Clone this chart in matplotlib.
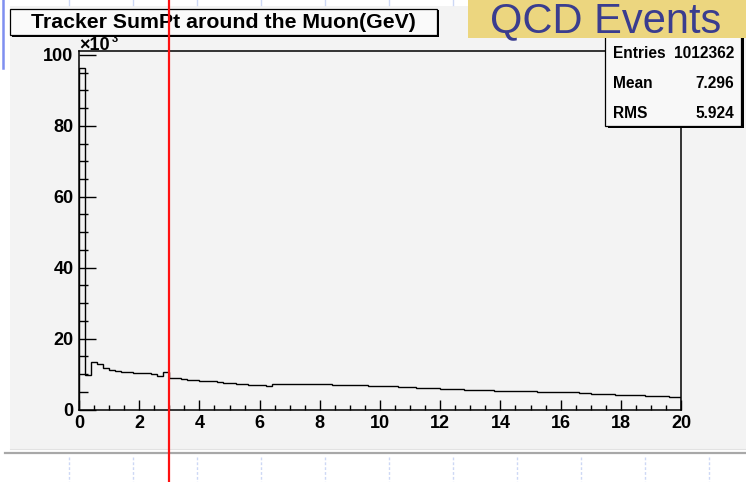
import numpy as np
import matplotlib
matplotlib.use("Agg")
import matplotlib.pyplot as plt
from matplotlib.patches import Rectangle
from matplotlib.lines import Line2D
from matplotlib.transforms import blended_transform_factory

plt.rcParams['font.family'] = ['Liberation Sans', 'DejaVu Sans']

# histogram: tracker sum pt around the muon, counts in units of 10^3
bin_edges = np.linspace(0.0, 20.0, 101)
counts_k = [
    96.3, 9.6, 13.3, 12.7, 11.7, 11.1, 10.9, 10.7, 10.6, 10.4,
    10.2, 10.2, 10.1, 9.4, 10.6, 9.0, 9.0, 8.6, 8.4, 8.3,
    8.1, 8.0, 7.9, 7.8, 7.6, 7.4, 7.3, 7.2, 7.0, 7.0,
    6.9, 6.7, 7.2, 7.3, 7.3, 7.3, 7.3, 7.3, 7.3, 7.2,
    7.2, 7.1, 7.0, 7.0, 6.95, 6.9, 6.9, 6.8, 6.7, 6.7,
    6.7, 6.6, 6.6, 6.4, 6.4, 6.3, 6.2, 6.1, 6.1, 6.0,
    5.8, 5.7, 5.7, 5.7, 5.6, 5.5, 5.5, 5.5, 5.4, 5.3,
    5.3, 5.3, 5.2, 5.2, 5.1, 5.1, 5.0, 5.0, 4.85, 4.85,
    4.8, 4.8, 4.8, 4.7, 4.7, 4.5, 4.5, 4.4, 4.4, 4.2,
    4.1, 4.1, 4.1, 4.0, 3.9, 3.85, 3.8, 3.8, 3.6, 3.6,
]
cut_value = 3.0

title = "Tracker SumPt around the Muon(GeV)"
banner = "QCD Events"
stat_names = ["Entries", "Mean", "RMS"]
stat_values = ["1012362", "7.296", "5.924"]

W, H = 746, 482
_BG = '#f3f3f3'
_BANNER = '#ecd67f'
_BANNER_TXT = '#3a3d8f'
_GRID_BLUE = '#cdd8f5'


def px(x, y):
    """pixel coords (top-left origin) -> figure fraction"""
    return x / W, 1 - y / H


fig = plt.figure(figsize=(W / 100, H / 100), dpi=100)
fig.patch.set_facecolor('white')

# canvas background and slide decorations
fig.patches.append(Rectangle(px(10, 449), (W - 10) / W, 443 / H, transform=fig.transFigure,
                             facecolor=_BG, edgecolor='none', zorder=-2))
fig.add_artist(Line2D([5 / W, 1], [1 - 453 / H] * 2, color='#a8a8a8', lw=1.6, zorder=1))
fig.add_artist(Line2D([10 / W, 1], [1 - 449 / H] * 2, color='#e2e2e2', lw=0.8, zorder=1))
fig.add_artist(Line2D([3.5 / W] * 2, [1, 1 - 68 / H], color='#7f8ff0', lw=1.8, zorder=1))
for xg in range(69, W, 64):
    fig.add_artist(Line2D([xg / W] * 2, [1 - 457 / H, 0], color=_GRID_BLUE, lw=1.0,
                          ls=(0, (2, 1.5)), zorder=1))
    fig.add_artist(Line2D([xg / W] * 2, [1, 1 - 5 / H], color=_GRID_BLUE, lw=1.0, zorder=-1))

# the histogram frame
l, b = px(79, 409.5)
r, t = px(681, 51)
ax = fig.add_axes([l, b, r - l, t - b])
ax.set_zorder(2)
ax.set_facecolor(_BG)
ax.stairs(counts_k, bin_edges, color='black', lw=1.0, baseline=0)
ax.set_xlim(0, 20)
ax.set_ylim(0, 101.1)
ax.set_xticks(np.arange(0, 21, 2))
ax.set_xticks(np.arange(0, 20.01, 0.5), minor=True)
ax.set_yticks(np.arange(0, 101, 20))
ax.set_yticks(np.arange(0, 101, 5), minor=True)
ax.tick_params(axis='both', which='both', direction='in', top=False, right=False,
               width=1.0, labelsize=13)
ax.tick_params(axis='x', which='major', length=7.5, pad=4)
ax.tick_params(axis='x', which='minor', length=3.8)
ax.tick_params(axis='y', which='major', length=12.5, pad=4)
ax.tick_params(axis='y', which='minor', length=6.5)
for lab in ax.get_xticklabels() + ax.get_yticklabels():
    lab.set_fontweight('bold')
for s in ax.spines.values():
    s.set_linewidth(1.1)

# axis exponent
fig.text(*px(79, 50), "\u00d710", fontsize=13, fontweight='bold', va='baseline', ha='left', zorder=3)
fig.text(*px(111.5, 42), "3", fontsize=8, fontweight='bold', va='baseline', ha='left', zorder=3)

# title box with shadow
fig.patches.append(Rectangle(px(12, 37), 427 / W, 27 / H, transform=fig.transFigure,
                             facecolor='black', edgecolor='none', zorder=4))
fig.patches.append(Rectangle(px(10, 35), 427 / W, 26 / H, transform=fig.transFigure,
                             facecolor='#fafafa', edgecolor='black', lw=0.9, zorder=4))
fig.text(*px(223, 22.5), title, fontsize=15.3, fontweight='bold', ha='center', va='center', zorder=5)

# stats box with shadow
fig.patches.append(Rectangle(px(608, 128), 136 / W, 100 / H, transform=fig.transFigure,
                             facecolor='black', edgecolor='none', zorder=4))
fig.patches.append(Rectangle(px(605, 125.5), 136 / W, 100 / H, transform=fig.transFigure,
                             facecolor='#f8f8f8', edgecolor='black', lw=0.9, zorder=4))
for i, (n, v) in enumerate(zip(stat_names, stat_values)):
    y = 53 + 30 * i
    fig.text(*px(613, y), n, fontsize=11.2, fontweight='bold', ha='left', va='center', zorder=5)
    fig.text(*px(734, y), v, fontsize=11.2, fontweight='bold', ha='right', va='center', zorder=5)

# slide banner
fig.patches.append(Rectangle(px(468, 38.5), (W - 468) / W, 38.5 / H, transform=fig.transFigure,
                             facecolor=_BANNER, edgecolor='none', zorder=6))
fig.text(*px(606, 32.5), banner, fontsize=30, color=_BANNER_TXT, ha='center', va='baseline', zorder=7)

# red cut line across the whole slide
trans = blended_transform_factory(ax.transData, fig.transFigure)
fig.add_artist(Line2D([cut_value, cut_value], [0, 1], transform=trans, color='#ff1010', lw=1.6, zorder=8))

fig.savefig('out.png', dpi=100, facecolor=fig.get_facecolor())
